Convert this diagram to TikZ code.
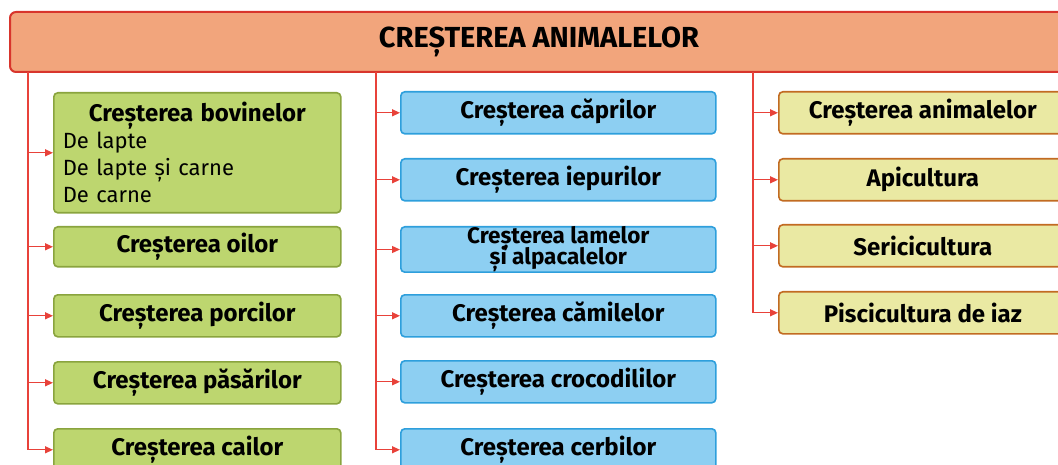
\documentclass[tikz,border=0pt]{standalone}
\usepackage{fontspec}
\setmainfont{Fira Sans}
\usetikzlibrary{arrows.meta, positioning, calc}
\definecolor{titlefill}{HTML}{F2A57C}
\definecolor{titleline}{HTML}{D8352C}
\definecolor{greenfill}{HTML}{BDD66F}
\definecolor{greenline}{HTML}{8AA43E}
\definecolor{bluefill}{HTML}{8DCFF2}
\definecolor{blueline}{HTML}{2E9FDC}
\definecolor{yellowfill}{HTML}{EAE9A3}
\definecolor{yellowline}{HTML}{C26B22}
\definecolor{linkred}{HTML}{E8423A}

\begin{document}
\begin{tikzpicture}[
    x=1pt, y=-1pt,
    box/.style={draw, line width=1.6pt, rounded corners=4pt, inner sep=0pt, align=center,
        anchor=north west, minimum height=42pt, font=\bfseries\fontsize{24}{20}\selectfont},
    greenbox/.style={box, fill=greenfill, draw=greenline, minimum width=287pt},
    bluebox/.style={box, fill=bluefill, draw=blueline, minimum width=315pt},
    yellowbox/.style={box, fill=yellowfill, draw=yellowline, minimum width=288pt},
    link/.style={draw=linkred, line width=1.3pt, -{Triangle[length=8pt, width=7pt]}}
]
\path[use as bounding box, clip] (0,0) rectangle (1058,465);

% Title bar
\node[draw=titleline, fill=titlefill, line width=2pt, rounded corners=6pt,
    minimum width=1058pt, minimum height=60pt, font=\bfseries\fontsize{29}{29}\selectfont]
    (title) at (539,42) {CREȘTEREA ANIMALELOR};

% Spines
\coordinate (spL) at (28,72);
\coordinate (spM) at (376,72);
\coordinate (spR) at (753,72);

% Left column
\node[greenbox, minimum height=120pt, inner xsep=9pt, text width=269pt, align=left,
    font=\fontsize{22}{27}\selectfont] (bov) at (53,92)
    {\makebox[269pt]{\bfseries\fontsize{24}{27}\selectfont Creșterea bovinelor}\\De lapte\\De lapte și carne\\De carne};
\node[greenbox, minimum height=40pt] (oi) at (53,226) {Creșterea oilor};
\node[greenbox] (porc) at (53,294) {Creșterea porcilor};
\node[greenbox] (pas) at (53,361) {Creșterea păsărilor};
\node[greenbox] (cai) at (53,428) {Creșterea cailor};

% Middle column
\node[bluebox] (capr) at (400,91) {Creșterea căprilor};
\node[bluebox] (iep) at (400,158) {Creșterea iepurilor};
\node[bluebox, font={\bfseries\fontsize{22.5}{21}\selectfont\lineskiplimit-20pt\relax}] (lam) at (400,226)
    {Creșterea lamelor\\și alpacalelor};
\node[bluebox] (cam) at (400,294) {Creșterea cămilelor};
\node[bluebox] (croc) at (400,360) {Creșterea crocodililor};
\node[bluebox] (cerb) at (400,428) {Creșterea cerbilor};

% Right column
\node[yellowbox] (anim) at (778,91) {Creșterea animalelor};
\node[yellowbox] (api) at (778,158) {Apicultura};
\node[yellowbox] (seri) at (778,224) {Sericicultura};
\node[yellowbox] (pisc) at (778,291) {Piscicultura de iaz};

% Connectors
\foreach \n in {bov,oi,porc,pas,cai}
    \draw[link] (spL) |- (\n.west);
\foreach \n in {capr,iep,lam,cam,croc,cerb}
    \draw[link] (spM) |- (\n.west);
\foreach \n in {anim,api,seri,pisc}
    \draw[link] (spR) |- (\n.west);

\end{tikzpicture}
\end{document}
